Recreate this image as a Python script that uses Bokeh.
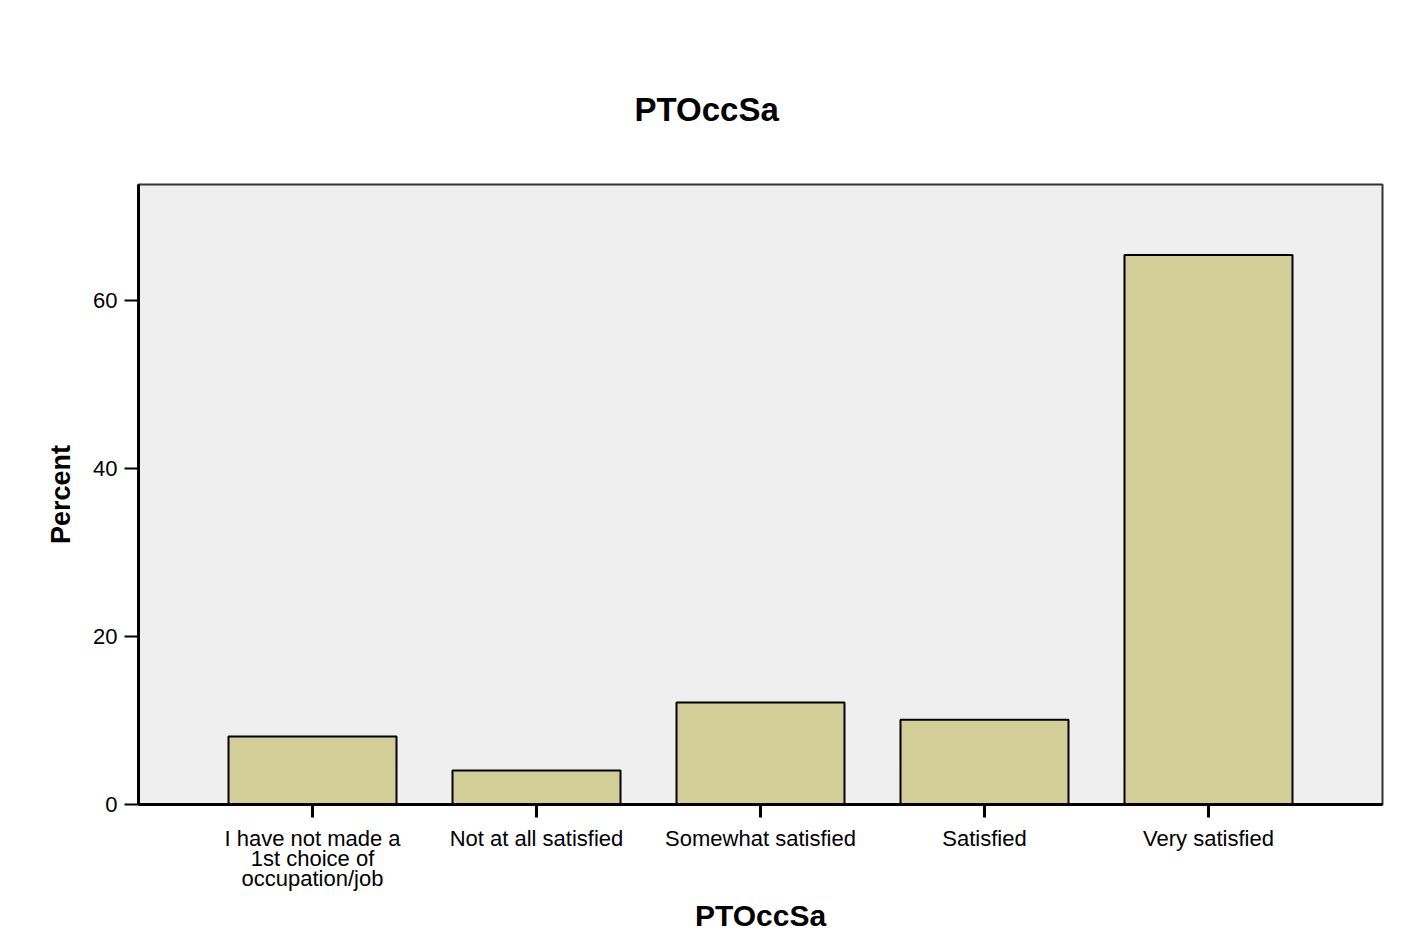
from bokeh.plotting import figure
from bokeh.models import Range1d, FixedTicker, ColumnDataSource
from bokeh.embed import file_html
from bokeh.resources import INLINE

# ---- data ----
categories = ["I have not made a\n1st choice of\noccupation/job",
              "Not at all satisfied", "Somewhat satisfied", "Satisfied", "Very satisfied"]
positions = [1, 2, 3, 4, 5]
percent = [8.1, 4.05, 12.15, 10.1, 65.4]
y_ticks = [0, 20, 40, 60]

FONT = "Liberation Sans"

src = ColumnDataSource(dict(x=positions, top=percent))

p = figure(width=1403, height=944, output_backend="svg", toolbar_location=None,
           x_range=Range1d(0.2232, 5.7768), y_range=Range1d(0, 73.8),
           min_border_left=138, min_border_right=21, min_border_top=184, min_border_bottom=140,
           title="PTOccSa")

p.vbar(x="x", top="top", width=0.75, source=src, fill_color="#d3ce98",
       line_color="black", line_width=2)

p.background_fill_color = "#efefef"
p.border_fill_color = "white"
p.outline_line_color = "#333333"
p.outline_line_width = 2
p.grid.visible = False

p.title.text_font = FONT
p.title.text_font_size = "33px"
p.title.text_font_style = "bold"
p.title.align = "left"
p.title.offset = 496
p.title.standoff = 113
p.title.text_color = "black"

xa = p.xaxis[0]
xa.ticker = FixedTicker(ticks=positions)
xa.major_label_overrides = {pos: lab for pos, lab in zip(positions, categories)}
xa.axis_label = "PTOccSa"
xa.axis_label_text_font = FONT
xa.axis_label_text_font_size = "30px"
xa.axis_label_text_font_style = "bold"
xa.axis_label_text_color = "black"
xa.axis_label_standoff = 5
xa.major_label_text_font = FONT
xa.major_label_text_font_size = "22px"
xa.major_label_text_line_height = 0.8
xa.major_label_standoff = 8
xa.major_tick_in = 0
xa.major_tick_out = 13
xa.major_tick_line_width = 3
xa.minor_tick_line_color = None
xa.axis_line_width = 3
xa.axis_line_color = "black"
xa.major_label_text_color = "black"

ya = p.yaxis[0]
ya.ticker = FixedTicker(ticks=y_ticks)
ya.axis_label = "Percent"
ya.axis_label_text_font = FONT
ya.axis_label_text_font_size = "27px"
ya.axis_label_text_font_style = "bold"
ya.axis_label_text_color = "black"
ya.axis_label_standoff = 14
ya.major_label_text_font = FONT
ya.major_label_text_font_size = "22px"
ya.major_label_standoff = 7
ya.major_tick_in = 0
ya.major_tick_out = 14
ya.major_tick_line_width = 2
ya.minor_tick_line_color = None
ya.axis_line_width = 3
ya.axis_line_color = "black"
ya.major_label_text_color = "black"
ya.major_label_orientation = "horizontal"

open("out.html", "w").write(file_html(p, INLINE))
